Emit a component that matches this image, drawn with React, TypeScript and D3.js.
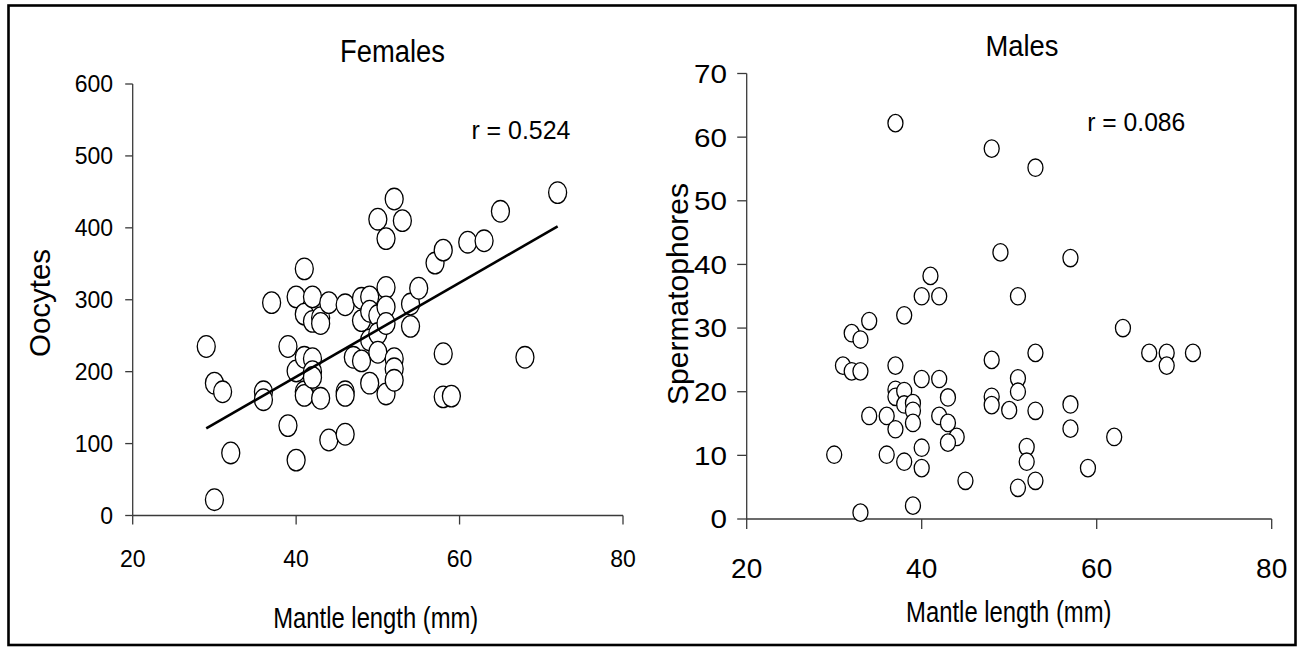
import React from "react";
import * as d3 from "d3";

// Females: mantle length (mm) vs oocytes
const femaleML = [29,30,31,32,30,36,36,37,39,39,40,40,40,41,41,41,41,41,42,42,42,42,42,43,43,43,44,44,46,46,46,46,47,48,48,48,49,49,49,49,50,50,50,50,51,51,51,51,51,52,52,52,52,53,54,54,55,57,58,58,58,59,61,63,65,68,72];
const femaleOocytes = [235,184,172,87,22,172,161,296,235,125,304,201,77,343,280,220,172,167,304,270,218,200,192,275,267,163,296,105,293,172,167,113,220,302,271,215,304,284,244,184,412,278,253,227,385,317,290,267,169,440,218,204,188,410,294,263,316,351,369,225,165,166,380,382,423,220,449];
// Fitted regression line end points (mantle length, oocytes)
const femaleTrendML = [29, 72];
const femaleTrendOocytes = [121, 402];

// Males: mantle length (mm) vs spermatophores
const maleML = [37,48,53,49,57,41,40,42,51,38,34,32,33,63,53,66,68,68,71,48,31,32,33,37,40,42,51,51,37,37,38,38,39,39,43,48,48,50,53,57,34,36,42,43,39,37,57,44,43,62,40,52,52,30,36,38,40,59,45,53,51,39,33];
const maleSperm = [62.2,58.2,55.2,41.9,41,38.2,35,35,35,32,31.1,29.2,28.2,30,26.1,26.1,26.1,24.1,26.1,25,24.1,23.2,23.2,24.1,22,22,22.1,20,20.3,19.2,20.1,18,18.2,17,19.1,19.2,17.9,17.1,17,18,16.2,16.2,16.2,15.1,15.1,14.1,14.2,12.9,12,12.9,11.2,11.3,9,10.1,10.1,9,8,8,6,6,4.9,2.1,1];

const xTicks = [20, 40, 60, 80];
const femaleYTicks = [0, 100, 200, 300, 400, 500, 600];
const maleYTicks = [0, 10, 20, 30, 40, 50, 60, 70];

const FONT = "'Liberation Sans Narrow', 'Arial Narrow', 'Liberation Sans', Arial, sans-serif";
const AXIS = "#3a3a3a";

export default function App() {
  // Female scales
  const fx = d3.scaleLinear().domain([20, 80]).range([132.7, 623]);
  const fy = d3.scaleLinear().domain([0, 600]).range([515.5, 84]);
  // Male scales
  const mx = d3.scaleLinear().domain([20, 80]).range([746.7, 1271.7]);
  const my = d3.scaleLinear().domain([0, 70]).range([519, 73.5]);

  const trendLine = d3
    .line<number>()
    .x((d) => fx(d))
    .y((_, i) => fy(femaleTrendOocytes[i]));

  return (
    <svg
      width={1306}
      height={651}
      style={{ position: "absolute", left: 0, top: 0, background: "#fff" }}
      fontFamily={FONT}
    >
      <rect x={0} y={0} width={1306} height={651} fill="#fff" />
      <rect x={8.5} y={5.5} width={1287} height={639.5} fill="none" stroke="#000" strokeWidth={2.6} />

      {/* ---------- Females ---------- */}
      <g>
        <text x={392.5} y={61.5} fontSize={31} textAnchor="middle" textLength={105} lengthAdjust="spacingAndGlyphs">Females</text>
        <text x={471.4} y={139} fontSize={26} textLength={99} lengthAdjust="spacingAndGlyphs">r = 0.524</text>

        <line x1={fx(20)} x2={fx(20)} y1={fy(0)} y2={fy(600)} stroke={AXIS} strokeWidth={1.3} />
        <line x1={fx(20)} x2={fx(80)} y1={fy(0)} y2={fy(0)} stroke={AXIS} strokeWidth={1.3} />
        {femaleYTicks.map((t) => (
          <g key={"fy" + t}>
            <line x1={fx(20) - 7.5} x2={fx(20)} y1={fy(t)} y2={fy(t)} stroke={AXIS} strokeWidth={1.3} />
            <text x={113} y={fy(t)} dy="0.36em" fontSize={23} textAnchor="end">{t}</text>
          </g>
        ))}
        {xTicks.map((t) => (
          <g key={"fx" + t}>
            <line x1={fx(t)} x2={fx(t)} y1={fy(0)} y2={fy(0) + 9} stroke={AXIS} strokeWidth={1.3} />
            <text x={fx(t)} y={566.7} fontSize={23} textAnchor="middle">{t}</text>
          </g>
        ))}
        <text x={375.8} y={627.7} fontSize={30} textAnchor="middle" textLength={205} lengthAdjust="spacingAndGlyphs">Mantle length (mm)</text>
        <text transform="translate(50,303) rotate(-90)" fontSize={30} textAnchor="middle" textLength={108} lengthAdjust="spacingAndGlyphs">Oocytes</text>

        {femaleML.map((v, i) => (
          <ellipse key={"fp" + i} cx={fx(v)} cy={fy(femaleOocytes[i])} rx={9} ry={10.8} fill="#fff" stroke="#000" strokeWidth={1.3} />
        ))}
        <path d={trendLine(femaleTrendML) || ""} fill="none" stroke="#000" strokeWidth={2.6} />
      </g>

      {/* ---------- Males ---------- */}
      <g>
        <text x={1022} y={56} fontSize={29} textAnchor="middle" textLength={73} lengthAdjust="spacingAndGlyphs">Males</text>
        <text x={1087.3} y={131} fontSize={25} textLength={98} lengthAdjust="spacingAndGlyphs">r = 0.086</text>

        <line x1={mx(20)} x2={mx(20)} y1={my(0)} y2={my(70)} stroke={AXIS} strokeWidth={1.3} />
        <line x1={mx(20)} x2={mx(80)} y1={my(0)} y2={my(0)} stroke={AXIS} strokeWidth={1.3} />
        {maleYTicks.map((t) => (
          <g key={"my" + t}>
            <line x1={mx(20) - 9.5} x2={mx(20)} y1={my(t)} y2={my(t)} stroke={AXIS} strokeWidth={1.3} />
            <text x={727} y={my(t)} dy="0.36em" fontSize={26} textAnchor="end" textLength={String(t).length * 16.5} lengthAdjust="spacingAndGlyphs">{t}</text>
          </g>
        ))}
        {xTicks.map((t) => (
          <g key={"mx" + t}>
            <line x1={mx(t)} x2={mx(t)} y1={my(0)} y2={my(0) + 10} stroke={AXIS} strokeWidth={1.3} />
            <text x={mx(t)} y={578} fontSize={28} textAnchor="middle">{t}</text>
          </g>
        ))}
        <text x={1008.8} y={621.5} fontSize={29} textAnchor="middle" textLength={205.5} lengthAdjust="spacingAndGlyphs">Mantle length (mm)</text>
        <text transform="translate(687.5,294) rotate(-90)" fontSize={29} textAnchor="middle" textLength={222} lengthAdjust="spacingAndGlyphs">Spermatophores</text>

        {maleML.map((v, i) => (
          <ellipse key={"mp" + i} cx={mx(v)} cy={my(maleSperm[i])} rx={7.5} ry={8.7} fill="#fff" stroke="#000" strokeWidth={1.3} />
        ))}
      </g>
    </svg>
  );
}
